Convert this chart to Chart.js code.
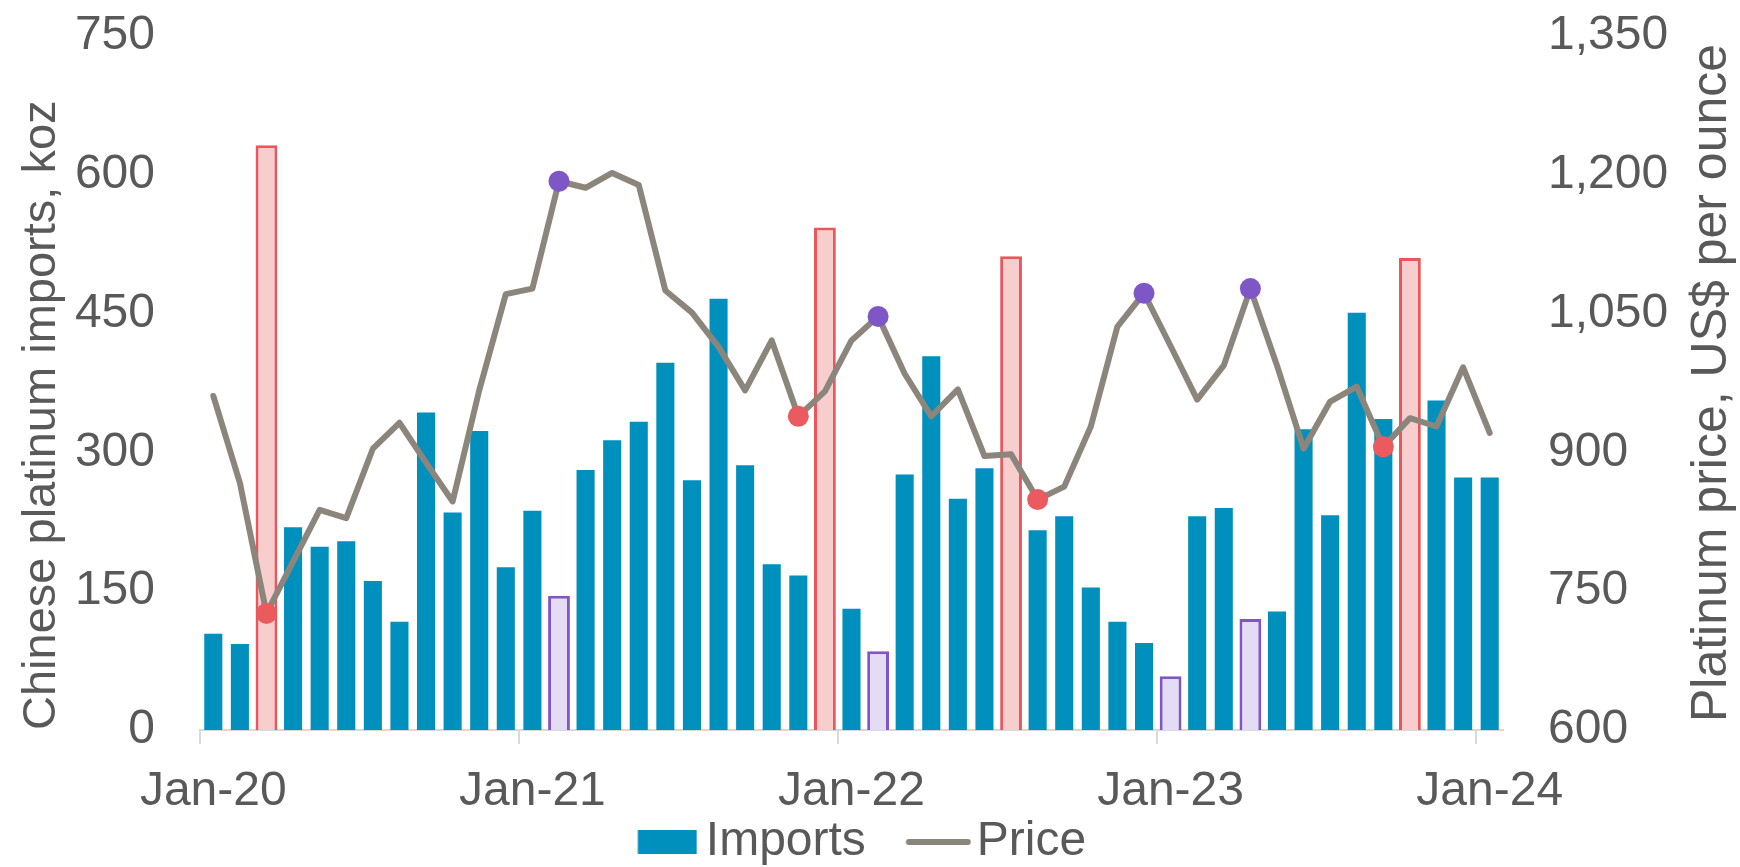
<!DOCTYPE html>
<html><head><meta charset="utf-8">
<script src="https://cdn.jsdelivr.net/npm/chart.js@4"></script>
<style>html,body{margin:0;padding:0;background:#fff}</style>
</head><body>
<canvas id="c" width="1740" height="867"></canvas>
<script>
const months = ['Jan-20','Feb-20','Mar-20','Apr-20','May-20','Jun-20','Jul-20','Aug-20','Sep-20','Oct-20','Nov-20','Dec-20',
'Jan-21','Feb-21','Mar-21','Apr-21','May-21','Jun-21','Jul-21','Aug-21','Sep-21','Oct-21','Nov-21','Dec-21',
'Jan-22','Feb-22','Mar-22','Apr-22','May-22','Jun-22','Jul-22','Aug-22','Sep-22','Oct-22','Nov-22','Dec-22',
'Jan-23','Feb-23','Mar-23','Apr-23','May-23','Jun-23','Jul-23','Aug-23','Sep-23','Oct-23','Nov-23','Dec-23',
'Jan-24'];
const tickLabels = ['Jan-20','Jan-21','Jan-22','Jan-23','Jan-24'];
const imports = [104,93,632,219,198,204,161,117,343,235,323,176,
237,145,281,313,333,397,270,466,286,179,167,543,
131,85,276,404,250,283,512,216,231,154,117,94,
58,231,240,120,128,325,232,451,336,510,356,273,
273];
const price = [961,867,726,782,838,829,904,932,889,847,967,1071,
1077,1193,1186,1202,1189,1075,1051,1014,967,1021,939,966,
1021,1047,985,939,968,896,898,849,863,928,1036,1072,
1015,957,994,1077,994,904,955,971,906,937,928,992,
921];
const leftTicks = [0,150,300,450,600,750];
const rightTicks = [600,750,900,1050,1200,1350];
const redBarMonths = ['Mar-20','Dec-21','Jul-22','Oct-23'];
const purpleBarMonths = ['Feb-21','Feb-22','Jan-23','Apr-23'];
const redPointMonths = ['Mar-20','Nov-21','Aug-22','Sep-23'];
const purplePointMonths = ['Feb-21','Feb-22','Dec-22','Apr-23'];
const leftTitle = 'Chinese platinum imports, koz';
const rightTitle = 'Platinum price, US$ per ounce';

const BLUE = '#0090bd', LINE = '#8c857b', TXT = '#595959', AXIS = '#d9d9d9';
const PINK = '#f8cdce', RED = '#e9575c', LAV = '#e3dcf4', PURP = '#7f56c9';
const REDDOT = '#ea5a5e', PURPDOT = '#7e56c6';
const FAM = '"Liberation Sans", Arial, sans-serif';

const isHi = m => redBarMonths.includes(m) || purpleBarMonths.includes(m);
const baseData = imports.map((v,i) => isHi(months[i]) ? null : v);
const hiData = imports.map((v,i) => isHi(months[i]) ? v : null);

function makeIcon(w, h, draw) {
  const c = document.createElement('canvas');
  c.width = w; c.height = h;
  draw(c.getContext('2d'));
  return c;
}
const importsIcon = makeIcon(110, 24, g => { g.fillStyle = BLUE; g.fillRect(50.5, 0, 59, 24); });
const priceIcon = makeIcon(116, 24, g => {
  g.strokeStyle = LINE; g.lineWidth = 6; g.lineCap = 'round';
  g.beginPath(); g.moveTo(53.5, 12); g.lineTo(112.5, 12); g.stroke();
});

const rightTitlePlugin = {
  id: 'rightTitle',
  afterDraw(chart) {
    const {ctx, chartArea} = chart;
    ctx.save();
    ctx.font = '50px ' + FAM;
    ctx.fillStyle = TXT;
    ctx.translate(1712, (chartArea.top + chartArea.bottom) / 2);
    ctx.rotate(-Math.PI / 2);
    ctx.textAlign = 'center';
    ctx.textBaseline = 'middle';
    ctx.fillText(rightTitle, 0, 0);
    ctx.restore();
  }
};

new Chart(document.getElementById('c'), {
  data: {
    labels: months,
    datasets: [
      {
        type: 'line', label: 'Price', data: price, yAxisID: 'y1', order: 0,
        borderColor: LINE, borderWidth: 6, tension: 0,
        borderJoinStyle: 'round', borderCapStyle: 'round',
        pointRadius: c => {
          const m = months[c.dataIndex];
          return (redPointMonths.includes(m) || purplePointMonths.includes(m)) ? 10.5 : 0;
        },
        pointBackgroundColor: c => redPointMonths.includes(months[c.dataIndex]) ? REDDOT : PURPDOT,
        pointBorderWidth: 0, pointHoverRadius: 0
      },
      {
        type: 'bar', label: 'Imports', data: baseData, yAxisID: 'y', order: 2,
        backgroundColor: BLUE, barPercentage: 0.68, categoryPercentage: 1, grouped: false
      },
      {
        type: 'bar', label: 'Highlight', data: hiData, yAxisID: 'y', order: 1,
        backgroundColor: c => redBarMonths.includes(months[c.dataIndex]) ? PINK : LAV,
        borderColor: c => redBarMonths.includes(months[c.dataIndex]) ? RED : PURP,
        borderWidth: 3, barPercentage: 0.82, categoryPercentage: 1, grouped: false
      }
    ]
  },
  options: {
    responsive: false, animation: false, events: [],
    layout: { padding: { top: 36, left: 0, right: 51, bottom: -9 } },
    plugins: {
      tooltip: { enabled: false },
      legend: {
        position: 'bottom',
        labels: {
          usePointStyle: true, pointStyleWidth: 79, boxHeight: 24, padding: 8,
          color: TXT, font: { size: 48, family: FAM },
          generateLabels: () => [
            { text: 'Imports', fillStyle: BLUE, strokeStyle: BLUE, lineWidth: 0, pointStyle: importsIcon, fontColor: TXT, hidden: false, datasetIndex: 1 },
            { text: 'Price', fillStyle: LINE, strokeStyle: LINE, lineWidth: 0, pointStyle: priceIcon, fontColor: TXT, hidden: false, datasetIndex: 0 }
          ]
        }
      }
    },
    scales: {
      x: {
        type: 'category', offset: true,
        grid: {
          display: true, drawOnChartArea: false, drawTicks: true, tickLength: 14, offset: true, lineWidth: 2,
          color: c => (c.tick && c.tick.label !== '') ? AXIS : 'rgba(0,0,0,0)'
        },
        border: { display: true, color: AXIS, width: 2 },
        ticks: {
          autoSkip: false, maxRotation: 0, minRotation: 0, padding: 19,
          color: TXT, font: { size: 48, family: FAM },
          callback: (v, i) => tickLabels.includes(months[i]) ? months[i] : ''
        },
        afterFit: s => { s.height = 80; }
      },
      y: {
        position: 'left', min: leftTicks[0], max: leftTicks[leftTicks.length - 1],
        afterBuildTicks: s => { s.ticks = leftTicks.map(v => ({ value: v })); },
        ticks: { padding: 0, color: TXT, font: { size: 48, family: FAM } },
        grid: { display: false, drawTicks: true, tickLength: 45 },
        border: { display: false },
        title: { display: true, text: leftTitle, align: 'start', color: TXT, padding: { top: 14, bottom: 0 }, font: { size: 47, family: FAM } },
        afterFit: s => { s.width = 200; }
      },
      y1: {
        position: 'right', min: rightTicks[0], max: rightTicks[rightTicks.length - 1],
        afterBuildTicks: s => { s.ticks = rightTicks.map(v => ({ value: v })); },
        ticks: { padding: 0, color: TXT, font: { size: 48, family: FAM },
          callback: v => v.toLocaleString('en-US') },
        grid: { display: false, drawTicks: true, tickLength: 45 },
        border: { display: false },
        afterFit: s => { s.width = 186; }
      }
    }
  },
  plugins: [rightTitlePlugin]
});
</script>
</body></html>
